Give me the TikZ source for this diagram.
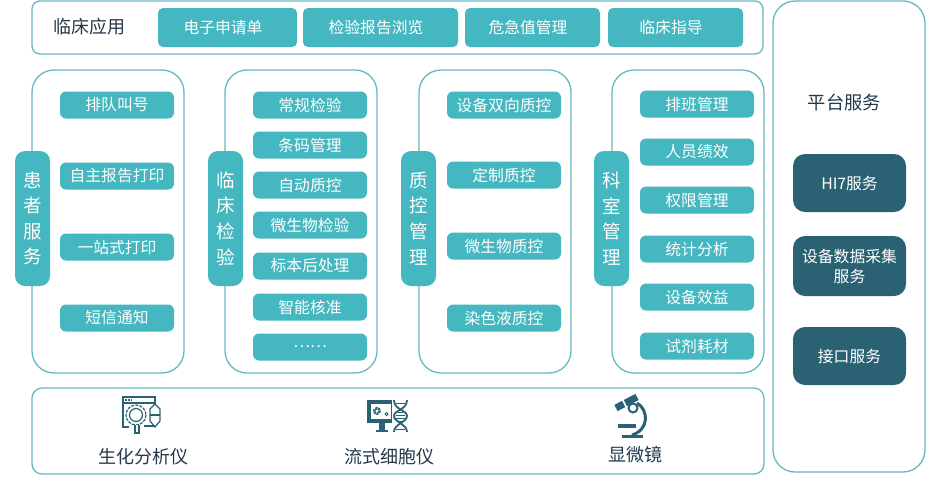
\documentclass[tikz,border=0pt]{standalone}
\usepackage{fontspec}
\setmainfont{Noto Sans CJK SC}
\definecolor{tealfill}{HTML}{45B7C0}
\definecolor{tealline}{HTML}{66B9C0}
\definecolor{darkfill}{HTML}{2A6274}
\definecolor{inktext}{HTML}{23384A}
\tikzset{
  panel/.style={draw=tealline,line width=1.3pt,fill=white,inner sep=0pt},
  tab/.style={fill=tealfill,text=white,rounded corners=10pt,inner sep=0pt,minimum width=35pt,minimum height=135pt,align=center,font=\fontsize{18.5}{25.6}\selectfont},
  topbtn/.style={fill=tealfill,text=white,rounded corners=5pt,inner sep=0pt,minimum height=39pt,font=\fontsize{15.8}{18}\selectfont,execute at end node=\hspace{9pt}},
  item/.style={fill=tealfill,text=white,rounded corners=6pt,inner sep=0pt,minimum width=114pt,minimum height=27pt,font=\fontsize{15.8}{18}\selectfont},
  svc/.style={fill=darkfill,text=white,rounded corners=12pt,inner sep=0pt,minimum width=113pt,align=center,font=\fontsize{15.8}{20}\selectfont},
  caption/.style={text=inktext,inner sep=0pt,font=\fontsize{18}{20}\selectfont},
  icon/.style={draw=darkfill,line width=1.2pt}
}
\begin{document}
\begin{tikzpicture}[x=1pt,y=-1pt]
\useasboundingbox (0,0) rectangle (936,480);
% top row
\node [panel,rounded corners=8pt,minimum width=731pt,minimum height=53pt] (toppanel) at (397.5,27.5) {};
\node [caption] (toptitle) at (89.5,27) {临床应用};
\node [topbtn,minimum width=139pt] (request) at (227.5,27.5) {电子申请单};
\node [topbtn,minimum width=155pt] (browse) at (380.5,27.5) {检验报告浏览};
\node [topbtn,minimum width=135pt] (critical) at (532.5,27.5) {危急值管理};
\node [topbtn,minimum width=135pt] (guide) at (675.5,27.5) {临床指导};
% four columns
\node [panel,rounded corners=22pt,minimum width=152pt,minimum height=303pt] (patientpanel) at (108,221.5) {};
\node [panel,rounded corners=22pt,minimum width=152pt,minimum height=303pt] (clinicpanel) at (301,221.5) {};
\node [panel,rounded corners=22pt,minimum width=152pt,minimum height=303pt] (qcpanel) at (495,221.5) {};
\node [panel,rounded corners=22pt,minimum width=152pt,minimum height=303pt] (deptpanel) at (688,221.5) {};
\node [tab] (patienttab) at (32.5,218.5) {患\\者\\服\\务};
\node [tab] (clinictab) at (225.5,218.5) {临\\床\\检\\验};
\node [tab] (qctab) at (418.5,218.5) {质\\控\\管\\理};
\node [tab] (depttab) at (611.5,218.5) {科\\室\\管\\理};
% patient
\node [item] (queue) at (117,105) {排队叫号};
\node [item] (selfprint) at (117,176) {自主报告打印};
\node [item] (onestop) at (117,247) {一站式打印};
\node [item] (sms) at (117,318) {短信通知};
% clinic
\node [item] (routine) at (310,105) {常规检验};
\node [item] (barcode) at (310,145) {条码管理};
\node [item] (autoqc) at (310,185) {自动质控};
\node [item] (microbe) at (310,225) {微生物检验};
\node [item] (postproc) at (310,266) {标本后处理};
\node [item] (verify) at (310,307) {智能核准};
\node [item] (more) at (310,347) {……};
% quality control
\node [item] (bidir) at (504,105) {设备双向质控};
\node [item] (custom) at (504,175) {定制质控};
\node [item] (microqc) at (504,246) {微生物质控};
\node [item] (stainqc) at (504,318) {染色液质控};
% department
\node [item] (shift) at (697,104) {排班管理};
\node [item] (staff) at (697,152) {人员绩效};
\node [item] (rights) at (697,200) {权限管理};
\node [item] (stats) at (697,249) {统计分析};
\node [item] (benefit) at (697,297) {设备效益};
\node [item] (reagent) at (697,346) {试剂耗材};
% platform
\node [panel,rounded corners=22pt,minimum width=152pt,minimum height=471pt] (platform) at (849,236.5) {};
\node [caption,font=\fontsize{18.3}{20}\selectfont] (platformtitle) at (844.5,103) {平台服务};
\node [svc,minimum height=58pt] (hl7) at (849.5,183) {HI7服务};
\node [svc,minimum height=60pt] (collect) at (849.5,266) {设备数据采集\\服务};
\node [svc,minimum height=58pt] (iface) at (849.5,356) {接口服务};
% devices
\node [panel,rounded corners=10pt,minimum width=732pt,minimum height=86pt] (devpanel) at (398,431) {};
\node [caption] (biochem) at (143,457) {生化分析仪};
\node [caption] (flow) at (389,457) {流式细胞仪};
\node [caption] (scope) at (635,455) {显微镜};
% analyser icon
\draw [icon] (129,427) -- (123,427) -- (123,397) -- (155,397) -- (155,405);
\draw [icon] (123,403) -- (155,403);
\draw [icon,dash pattern=on 1.5pt off 1.5pt] (125,400) -- (132,400);
\draw [icon,fill=white,dash pattern=on 3pt off 1.2pt] (136,415) circle (10);
\draw [icon] (136,415) circle (6.5);
\draw [icon,fill=white] (135,425) -- (135,433) -- (139,433) -- (139,425);
\draw [icon,fill=white] (155,404) -- (160,409) -- (160,421) -- (155,427) -- (150,421) -- (150,409) -- cycle;
\draw [icon] (150,415) -- (160,415);
\draw [icon] (144,426) -- (155,426);
% flow cytometer icon
\fill [darkfill] (367,400) rectangle (395,423);
\fill [white] (371,404) rectangle (391,419);
\fill [darkfill] (379,423) rectangle (385,430);
\fill [darkfill] (376,430) rectangle (388,432);
\draw [darkfill,line width=2.4pt,dash pattern=on 2pt off 0.8pt] (377,411) circle (2.8);
\draw [darkfill,line width=0.9pt] (386.5,414) circle (1.6);
\fill [white] (392,399) rectangle (409,433);
\draw [icon,line width=1.8pt] (394,400) .. controls (394,410) and (407,410) .. (407,416) .. controls (407,422) and (394,424) .. (394,432);
\draw [icon,line width=1.8pt] (407,400) .. controls (407,410) and (394,410) .. (394,416) .. controls (394,422) and (407,424) .. (407,432);
\draw [icon,line width=1pt] (396,403) -- (405,403) (398,412) -- (403,412) (396,415) -- (405,415) (396,418) -- (405,418) (398,421) -- (403,421) (396,429) -- (405,429);
% microscope icon
\draw [icon,line width=7pt] (616,408) -- (637,397);
\fill [white] (622,400.5) -- (625.5,407.5) -- (627,406.7) -- (623.5,399.7) -- cycle;
\draw [icon,line width=3pt] (637,403) .. controls (649,410) and (649,430) .. (632,435);
\draw [icon,fill=white,line width=2pt] (633,408) circle (4.5);
\draw [icon,line width=3.5pt] (618,426) -- (636,426);
\draw [icon,line width=3pt] (622,436) -- (643,436);
\end{tikzpicture}
\end{document}
